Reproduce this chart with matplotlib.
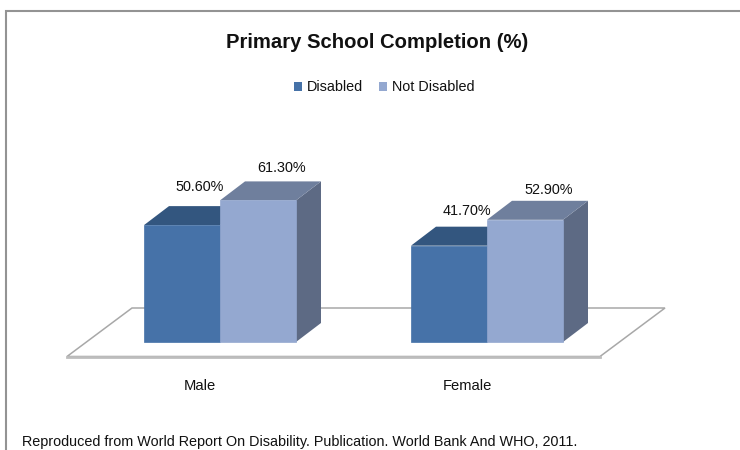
import matplotlib
matplotlib.use("Agg")
import matplotlib.pyplot as plt
from matplotlib.patches import Polygon

# data
groups = ["Male", "Female"]
series = ["Disabled", "Not Disabled"]
disabled = [50.6, 41.7]
not_disabled = [61.3, 52.9]

front_colors = ["#4672A8", "#94A8D0"]
top_colors = ["#33567F", "#6F7F9D"]
side_colors = ["#33567F", "#5D6A84"]

W, H = 740, 450
PX_X = 267.0    # pixels between the two groups
PX_Y = 2.31     # pixels per percent
X0, Y0 = 220.0, 342.0    # pixel of Male centre, pixel of zero

plt.rcParams['font.family'] = ['Liberation Sans', 'DejaVu Sans']

fig = plt.figure(figsize=(W / 100, H / 100), dpi=100)
ax = fig.add_axes([0, 0, 1, 1])
ax.set_xlim(-X0 / PX_X, (W - X0) / PX_X)
ax.set_ylim(-(H - Y0) / PX_Y, Y0 / PX_Y)
ax.axis("off")

bar_w = 76 / PX_X
dx = 25 / PX_X
dy = 19 / PX_Y
small = 10.4


def fx(px):
    return (px - X0) / PX_X


def fy(py):
    return (Y0 - py) / PX_Y


# outer frame, only left and top are inside the picture
ax.plot([fx(6), fx(6), fx(745)], [fy(455), fy(11), fy(11)], color="#939393", lw=1.5, solid_joinstyle="miter")

# floor
floor = [(fx(67), fy(356.5)), (fx(600), fy(356.5)), (fx(665), fy(308)), (fx(132), fy(308))]
ax.add_patch(Polygon(floor, closed=True, facecolor="white", edgecolor="#a8a8a8", lw=1.1, zorder=1))
ax.plot([fx(67), fx(600)], [fy(357), fy(357)], color="#bdbdbd", lw=2, zorder=1)

# 3d bars: the front face is a real bar, top and side are offset from it
for s, values in enumerate([disabled, not_disabled]):
    for g, v in enumerate(values):
        left = g - bar_w + s * bar_w
        right = left + bar_w
        ax.add_patch(Polygon([(right, 0), (right + dx, dy), (right + dx, v + dy), (right, v)],
                             facecolor=side_colors[s], edgecolor="none", zorder=2 + s))
        ax.add_patch(Polygon([(left, v), (left + dx, v + dy), (right + dx, v + dy), (right, v)],
                             facecolor=top_colors[s], edgecolor="none", zorder=2 + s))
        ax.bar(left, v, width=bar_w, align="edge", color=front_colors[s], edgecolor=front_colors[s],
               lw=0.5, zorder=3 + s, label=series[s] if g == 0 else None)

# value labels, the gaps above the bars differ a bit in the original
gaps_a = [38, 35]
gaps_b = [32, 30]
for g, (a, b) in enumerate(zip(disabled, not_disabled)):
    ax.text(g - 20.5 / PX_X, a + gaps_a[g] / PX_Y, f"{a:.2f}%", ha="center", va="center", fontsize=small, color="#111111", zorder=6)
    ax.text(g + 62 / PX_X, b + gaps_b[g] / PX_Y, f"{b:.2f}%", ha="center", va="center", fontsize=small, color="#111111", zorder=6)

# category labels
for g, name in enumerate(groups):
    ax.text(g - 20 / PX_X, fy(386), name, ha="center", va="center", fontsize=10.6, color="#111111")

fig.text(377.5 / W, 1 - 42 / H, "Primary School Completion (%)", ha="center", va="center",
         fontsize=14.6, fontweight="bold", color="#111111")

# legend
ax.add_patch(Polygon([(fx(294), fy(82)), (fx(302), fy(82)), (fx(302), fy(91)), (fx(294), fy(91))], facecolor=front_colors[0], edgecolor="none"))
ax.add_patch(Polygon([(fx(379), fy(82)), (fx(387), fy(82)), (fx(387), fy(91)), (fx(379), fy(91))], facecolor=front_colors[1], edgecolor="none"))
ax.text(fx(307), fy(87), series[0], ha="left", va="center", fontsize=small, color="#111111")
ax.text(fx(392), fy(87), series[1], ha="left", va="center", fontsize=small, color="#111111")

fig.text(22 / W, 1 - 442 / H, "Reproduced from World Report On Disability. Publication. World Bank And WHO, 2011.",
         ha="left", va="center", fontsize=small, color="#111111")

fig.savefig("out.png", dpi=100, facecolor="white")
